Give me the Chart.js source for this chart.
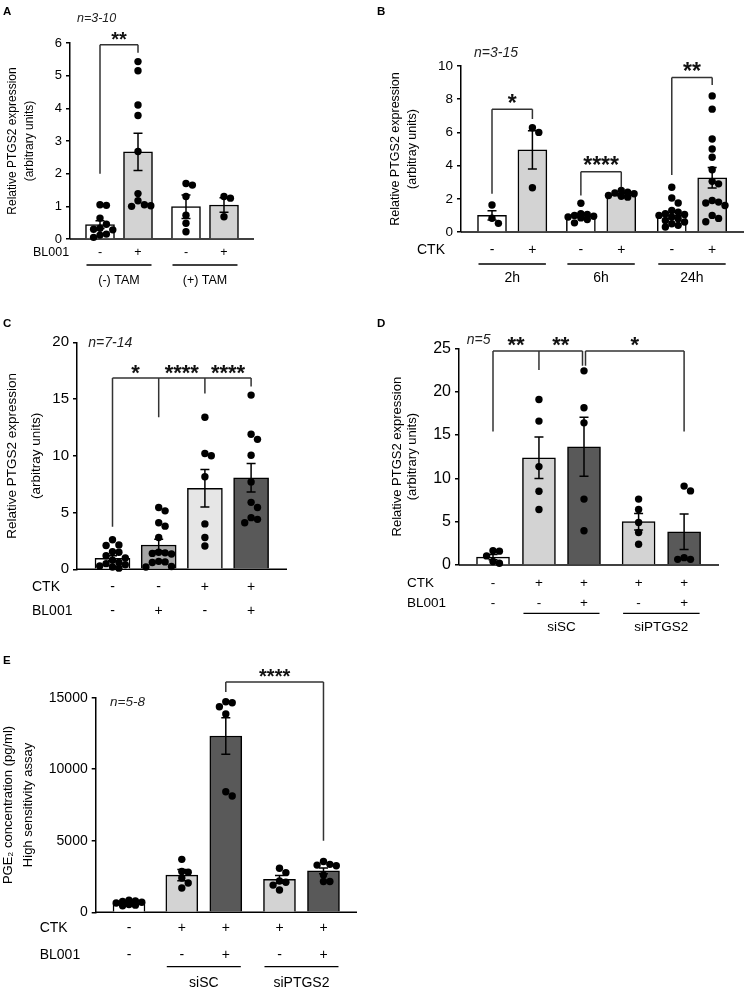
<!DOCTYPE html>
<html>
<head>
<meta charset="utf-8">
<script src="https://cdn.jsdelivr.net/npm/chart.js@4.4.1/dist/chart.umd.min.js"></script>
<style>
  body { margin: 0; background: #fff; }
  #wrap { position: relative; width: 748px; height: 990px; }
  #wrap canvas { position: absolute; left: 0; top: 0; }
</style>
</head>
<body>
<div id="wrap">
  <canvas id="chartA" width="748" height="990"></canvas>
  <canvas id="chartB" width="748" height="990"></canvas>
  <canvas id="chartC" width="748" height="990"></canvas>
  <canvas id="chartD" width="748" height="990"></canvas>
  <canvas id="chartE" width="748" height="990"></canvas>
</div>
<script>
// ---- data ----

// A: BL001 with/without tamoxifen
const aBL001 = ['-', '+', '-', '+'];
const aGroups = ['(-) TAM', '(+) TAM'];
const aMeans = [0.44, 2.67, 0.99, 1.04];
const aSem = [0.12, 0.57, 0.36, 0.22];
const aPoints = [
  [1.05, 1.03, 0.64, 0.45, 0.33, 0.3, 0.28, 0.15, 0.12, 0.05],
  [5.43, 5.15, 4.1, 3.78, 2.68, 1.39, 1.17, 1.05, 1.0, 1.02],
  [1.7, 1.65, 1.3, 0.73, 0.48, 0.22],
  [1.3, 1.25, 0.68]
];
const aTicks = [0, 6, 1];

// B: CTK time course
const bCTK = ['-', '+', '-', '+', '-', '+'];
const bGroups = ['2h', '6h', '24h'];
const bMeans = [1.0, 4.95, 1.0, 2.25, 1.0, 3.27];
const bSem = [0.28, 1.15, 0.12, 0.06, 0.17, 0.62];
const bPoints = [
  [1.63, 0.83, 0.52],
  [6.28, 6.0, 2.67],
  [1.73, 1.1, 1.05, 1.0, 0.95, 0.9, 0.85, 0.75, 0.55],
  [2.5, 2.4, 2.35, 2.3, 2.2, 2.15, 2.1],
  [2.7, 2.05, 1.75, 1.3, 1.2, 1.1, 1.05, 1.0, 0.9, 0.8, 0.7, 0.6, 0.5, 0.4, 0.3],
  [8.2, 7.4, 5.6, 5.0, 4.5, 3.75, 3.05, 2.9, 1.9, 1.8, 1.75, 1.6, 1.0, 0.82, 0.62]
];
const bTicks = [0, 10, 2];

// C: CTK x BL001
const cCTK = ['-', '-', '+', '+'];
const cBL001 = ['-', '+', '-', '+'];
const cMeans = [0.97, 2.14, 7.14, 8.07];
const cSem = [0.22, 0.5, 1.65, 1.25];
const cPoints = [
  [2.6, 2.15, 2.1, 1.55, 1.5, 1.2, 1.0, 0.8, 0.6, 0.5, 0.4, 0.3, 0.2, 0.1],
  [5.45, 5.15, 4.1, 3.8, 2.8, 1.5, 1.45, 1.4, 1.35, 0.7, 0.65, 0.6, 0.25, 0.2],
  [13.4, 10.2, 10.0, 8.15, 4.0, 2.8, 2.05],
  [15.35, 11.9, 11.45, 10.05, 7.7, 5.9, 5.45, 4.55, 4.4, 4.1]
];
const cTicks = [0, 20, 5];

// D: siRNA, PTGS2 expression
const dCTK = ['-', '+', '+', '+', '+'];
const dBL001 = ['-', '-', '+', '-', '+'];
const dGroups = ['siSC', 'siPTGS2'];
const dMeans = [0.9, 12.37, 13.64, 5.0, 3.84];
const dSem = [0.3, 2.4, 3.4, 0.95, 2.05];
const dPoints = [
  [1.65, 1.6, 1.05, 0.4, 0.2],
  [19.1, 16.6, 11.35, 8.5, 6.4],
  [22.4, 18.15, 16.4, 7.6, 3.95],
  [7.6, 6.4, 4.9, 3.75, 2.4],
  [9.1, 8.55, 0.85, 0.65, 0.65]
];
const dTicks = [0, 25, 5];

// E: PGE2 concentration
const eCTK = ['-', '+', '+', '+', '+'];
const eBL001 = ['-', '-', '+', '-', '+'];
const eGroups = ['siSC', 'siPTGS2'];
const eMeans = [640, 2600, 12320, 2300, 2900];
const eSem = [50, 400, 1280, 270, 200];
const ePoints = [
  [850, 800, 750, 700, 650, 550, 500, 450],
  [3700, 2850, 2800, 2400, 2050, 1700],
  [14720, 14650, 14370, 13860, 8430, 8130],
  [3080, 2770, 2190, 2100, 1900, 1560],
  [3550, 3350, 3300, 3250, 2600, 2150, 2150]
];
const eTicks = [0, 15000, 5000];

// significance brackets: bars joined, where each leg stops, height of the top line
const aBrackets = [{ legs: [0, 1], feet: [2.0, 5.7], top: 5.95, stars: ['**'] }];
const bBrackets = [
  { legs: [0, 1], feet: [2.3, 6.8], top: 7.4, stars: ['*'] },
  { legs: [2, 3], feet: [2.2, 2.7], top: 3.63, stars: ['****'] },
  { legs: [4, 5], feet: [3.43, 8.85], top: 9.3, stars: ['**'] }
];
const cBrackets = [{ legs: [0, 1, 2, 3], feet: [3.75, 13.4, 15.5, 16.1], top: 16.85, stars: ['*', '****', '****'] }];
const dBrackets = [
  { legs: [0, 1, 2], feet: [15.4, 22.5, 23.0], top: 24.7, stars: ['**', '**'] },
  { legs: [2, 4], feet: [23.0, 15.4], top: 24.7, stars: ['*'] }
];
const eBrackets = [{ legs: [2, 4], feet: [15400, 5000], top: 16100, stars: ['****'] }];

const WHITE = '#ffffff', LIGHT = '#d3d3d3', PALE = '#e6e6e6', MID = '#a6a6a6', DARK = '#595959';
const FONT = '"Liberation Sans", Arial, sans-serif';
Chart.defaults.font.family = FONT;
Chart.defaults.color = '#000';

const panels = [
  {
    id: 'chartA', letter: 'A', letterPos: [3, 14.5], nText: 'n=3-10', nPos: [7, -21.5], nSize: 12.5,
    yTitle: ['Relative PTGS2 expression', '(arbitrary units)'], ticks: aTicks,
    means: aMeans, sem: aSem, points: aPoints, brackets: aBrackets,
    rows: [{ label: 'BL001', values: aBL001 }],
    groups: [{ label: aGroups[0], from: 0, to: 1 }, { label: aGroups[1], from: 2, to: 3 }],
    colors: [WHITE, LIGHT, WHITE, LIGHT],
    plot: [70, 43, 254, 239], slots: [0, 1, 2.263, 3.263], firstCenter: 100, spacing: 38, barW: 29,
    tickSize: 13, titleSize: 12, titleX: 13, titleLine: 17, rowSize: 12.5, starSize: 20,
    rowY: [14], rowDx: -37, groupLineY: 26, groupLabelY: 42
  },
  {
    id: 'chartB', letter: 'B', letterPos: [377, 14.5], nText: 'n=3-15', nPos: [13, -9.3], nSize: 14,
    yTitle: ['Relative PTGS2 expression', '(arbitray units)'], ticks: bTicks,
    means: bMeans, sem: bSem, points: bPoints, brackets: bBrackets,
    rows: [{ label: 'CTK', values: bCTK }],
    groups: [{ label: bGroups[0], from: 0, to: 1 }, { label: bGroups[1], from: 2, to: 3 }, { label: bGroups[2], from: 4, to: 5 }],
    colors: [WHITE, LIGHT, WHITE, LIGHT, WHITE, LIGHT],
    plot: [461, 66, 744, 232], slots: [0, 1, 2.2, 3.2, 4.45, 5.45], firstCenter: 492, spacing: 40.4, barW: 29,
    tickSize: 13.5, titleSize: 12.5, titleX: 396, titleLine: 17, rowSize: 14, starSize: 23,
    rowY: [18], rowDx: -44, groupLineY: 32, groupLabelY: 46
  },
  {
    id: 'chartC', letter: 'C', letterPos: [3, 327], nText: 'n=7-14', nPos: [11.3, 4.4], nSize: 14,
    yTitle: ['Relative PTGS2 expression', '(arbitray units)'], ticks: cTicks,
    means: cMeans, sem: cSem, points: cPoints, brackets: cBrackets,
    rows: [{ label: 'CTK', values: cCTK }, { label: 'BL001', values: cBL001 }],
    groups: [],
    colors: [WHITE, MID, PALE, DARK],
    plot: [77, 342.3, 287, 569.3], slots: [0, 1, 2, 3], firstCenter: 112.5, spacing: 46.2, barW: 35,
    tickSize: 15, titleSize: 13.5, titleX: 12, titleLine: 24, rowSize: 14, starSize: 22,
    rowY: [17.4, 41.4], rowDx: -45, groupLineY: 0, groupLabelY: 0
  },
  {
    id: 'chartD', letter: 'D', letterPos: [377, 327], nText: 'n=5', nPos: [7.7, -4.3], nSize: 14,
    yTitle: ['Relative PTGS2 expression', '(arbitrary units)'], ticks: dTicks,
    means: dMeans, sem: dSem, points: dPoints, brackets: dBrackets,
    rows: [{ label: 'CTK', values: dCTK }, { label: 'BL001', values: dBL001 }],
    groups: [{ label: dGroups[0], from: 1, to: 2 }, { label: dGroups[1], from: 3, to: 4 }],
    colors: [WHITE, LIGHT, DARK, LIGHT, DARK],
    plot: [459, 348.3, 719, 565], slots: [0, 1.01, 2, 3.2, 4.2], firstCenter: 493, spacing: 45.5, barW: 33,
    tickSize: 16, titleSize: 13, titleX: 397, titleLine: 15.5, rowSize: 13.5, starSize: 22,
    rowY: [18.3, 38.3], rowDx: -52, groupLineY: 48.3, groupLabelY: 62
  },
  {
    id: 'chartE', letter: 'E', letterPos: [3, 664.3], nText: 'n=5-8', nPos: [14.3, 8.3], nSize: 13.5,
    yTitle: ['PGE\u2082 concentration (pg/ml)', 'High sensitivity assay'], ticks: eTicks,
    means: eMeans, sem: eSem, points: ePoints, brackets: eBrackets,
    rows: [{ label: 'CTK', values: eCTK }, { label: 'BL001', values: eBL001 }],
    groups: [{ label: eGroups[0], from: 1, to: 2 }, { label: eGroups[1], from: 3, to: 4 }],
    colors: [WHITE, LIGHT, DARK, LIGHT, DARK],
    plot: [95.7, 697.7, 357, 912.3], slots: [0, 1.2, 2.2, 3.42, 4.42], firstCenter: 129, spacing: 44, barW: 32,
    tickSize: 14, titleSize: 13, titleX: 8.5, titleLine: 19.5, rowSize: 14, starSize: 20,
    rowY: [16, 42.7], rowDx: -56, groupLineY: 54.4, groupLabelY: 71
  }
];

// spread dots of one bar sideways, staying inside the bar
function swarm(vals, pxPerY, d, maxOff) {
  const placed = [];
  const offs = [0];
  for (let k = 1; k * d <= maxOff; k++) offs.push(k * d, -k * d);
  return vals.map(v => {
    const y = v * pxPerY;
    let best = 0, bestGap = -1;
    for (const off of offs) {
      let gap = Infinity;
      placed.forEach(p => { gap = Math.min(gap, Math.hypot(p[0] - off, p[1] - y)); });
      if (gap >= d) { best = off; bestGap = gap; break; }
      if (gap > bestGap) { bestGap = gap; best = off; }
    }
    placed.push([best, y]);
    return best;
  });
}

function decor(p) {
  return {
    id: 'decor',
    beforeDatasetsDraw(chart) {
      const { ctx, chartArea } = chart;
      ctx.save();
      ctx.strokeStyle = '#000';
      ctx.lineWidth = 1.5;
      ctx.beginPath();
      ctx.moveTo(chartArea.left, chartArea.bottom);
      ctx.lineTo(chartArea.right, chartArea.bottom);
      ctx.stroke();
      ctx.restore();
    },
    afterDatasetDraw(chart, args) {
      if (args.index !== 0) return;
      const ctx = chart.ctx, xs = chart.scales.x, ys = chart.scales.y;
      ctx.save();
      ctx.strokeStyle = '#000';
      ctx.lineWidth = 1.5;
      p.means.forEach((m, i) => {
        const x = xs.getPixelForValue(p.slots[i]);
        const y1 = ys.getPixelForValue(m + p.sem[i]);
        const y2 = ys.getPixelForValue(m - p.sem[i]);
        ctx.beginPath();
        ctx.moveTo(x, y1); ctx.lineTo(x, y2);
        ctx.moveTo(x - 4.5, y1); ctx.lineTo(x + 4.5, y1);
        ctx.moveTo(x - 4.5, y2); ctx.lineTo(x + 4.5, y2);
        ctx.stroke();
      });
      ctx.restore();
    },
    afterDraw(chart) {
      const { ctx, chartArea } = chart;
      const xs = chart.scales.x, ys = chart.scales.y;
      const px = i => xs.getPixelForValue(p.slots[i]);
      ctx.save();

      // brackets and stars
      ctx.strokeStyle = '#333';
      ctx.lineWidth = 1.5;
      p.brackets.forEach((b, bi) => {
        const top = ys.getPixelForValue(b.top);
        const xsB = b.legs.map((leg, j) => {
          let nudge = 0;
          p.brackets.forEach((o, oi) => {
            if (oi === bi) return;
            if (j === b.legs.length - 1 && o.legs[0] === leg) nudge = -1.5;
            if (j === 0 && o.legs[o.legs.length - 1] === leg) nudge = 1.5;
          });
          return px(leg) + nudge;
        });
        ctx.beginPath();
        xsB.forEach((x, j) => {
          ctx.moveTo(x, ys.getPixelForValue(b.feet[j]));
          ctx.lineTo(x, top);
        });
        ctx.moveTo(xsB[0], top);
        ctx.lineTo(xsB[xsB.length - 1], top);
        ctx.stroke();
        ctx.fillStyle = '#111';
        ctx.font = `bold ${p.starSize}px ${FONT}`;
        ctx.textAlign = 'center';
        ctx.textBaseline = 'alphabetic';
        b.stars.forEach((s, j) => {
          ctx.fillText(s, (xsB[j] + xsB[j + 1]) / 2, top + 1.5);
        });
      });

      // panel letter and n label
      ctx.fillStyle = '#000';
      ctx.textAlign = 'left';
      ctx.textBaseline = 'alphabetic';
      ctx.font = `bold 11.5px ${FONT}`;
      ctx.fillText(p.letter, p.letterPos[0], p.letterPos[1]);
      ctx.fillStyle = '#222';
      ctx.font = `italic ${p.nSize}px ${FONT}`;
      ctx.fillText(p.nText, chartArea.left + p.nPos[0], chartArea.top + p.nPos[1]);

      // condition rows under the axis
      ctx.fillStyle = '#000';
      ctx.font = `${p.rowSize}px ${FONT}`;
      ctx.textBaseline = 'middle';
      p.rows.forEach((r, k) => {
        const y = chartArea.bottom + p.rowY[k];
        ctx.textAlign = 'left';
        ctx.fillText(r.label, chartArea.left + p.rowDx, y);
        ctx.textAlign = 'center';
        r.values.forEach((v, i) => ctx.fillText(v, px(i), y));
      });
      ctx.strokeStyle = '#000';
      ctx.lineWidth = 1.3;
      p.groups.forEach(g => {
        const x1 = px(g.from) - p.barW / 2 + 1, x2 = px(g.to) + p.barW / 2 - 1;
        const y = chartArea.bottom + p.groupLineY;
        ctx.beginPath();
        ctx.moveTo(x1, y); ctx.lineTo(x2, y);
        ctx.stroke();
        ctx.textAlign = 'center';
        ctx.fillText(g.label, (x1 + x2) / 2, chartArea.bottom + p.groupLabelY);
      });
      ctx.restore();
    }
  };
}

function makeChart(p) {
  const [left, top, right, bottom] = p.plot;
  const [yMin, yMax, yStep] = p.ticks;
  const xMin = p.slots[0] - (p.firstCenter - left) / p.spacing;
  const xMax = xMin + (right - left) / p.spacing;
  const pxPerY = (bottom - top) / (yMax - yMin);
  const titleLeft = p.titleX - p.titleLine / 2;

  const bars = p.means.map((m, i) => ({ x: p.slots[i], y: m }));
  const dots = [];
  p.points.forEach((vals, i) => {
    swarm(vals, pxPerY, 6.4, p.barW / 2 - 1).forEach((off, k) => {
      dots.push({ x: p.slots[i] + off / p.spacing, y: vals[k] });
    });
  });

  return new Chart(document.getElementById(p.id), {
    type: 'bar',
    data: {
      datasets: [
        {
          type: 'bar', data: bars, backgroundColor: p.colors, borderColor: '#000',
          borderWidth: 1.5, barThickness: p.barW, order: 2, clip: false
        },
        {
          type: 'scatter', data: dots, pointRadius: 3.7, pointHoverRadius: 3.7,
          backgroundColor: '#000', borderWidth: 0, order: 1, clip: false
        }
      ]
    },
    options: {
      responsive: false,
      animation: false,
      events: [],
      layout: { padding: { left: titleLeft, top: top, right: 748 - right, bottom: 990 - bottom } },
      plugins: { legend: { display: false }, tooltip: { enabled: false } },
      scales: {
        x: { type: 'linear', min: xMin, max: xMax, display: false, offset: false },
        y: {
          min: yMin, max: yMax,
          afterFit: s => { s.width = left - titleLeft; },
          ticks: { stepSize: yStep, color: '#000', font: { size: p.tickSize }, padding: 4, callback: v => String(v) },
          grid: { drawOnChartArea: false, drawTicks: true, tickLength: 4, color: '#000', lineWidth: 1.5 },
          border: { color: '#000', width: 1.5 },
          title: {
            display: true, text: p.yTitle, color: '#000', padding: 0,
            font: { size: p.titleSize, lineHeight: p.titleLine + 'px' }
          }
        }
      }
    },
    plugins: [decor(p)]
  });
}

panels.forEach(makeChart);
</script>
</body>
</html>
